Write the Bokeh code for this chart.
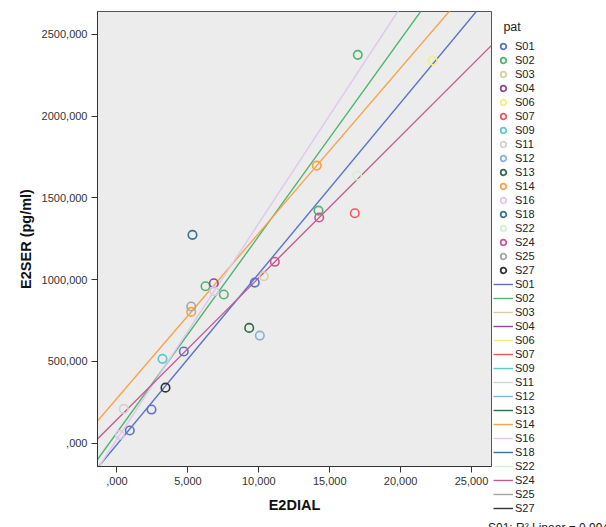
import numpy as np
from bokeh.plotting import figure
from bokeh.layouts import row, column
from bokeh.models import Range1d, FixedTicker, Legend, LegendItem, ColumnDataSource, Div
from bokeh.embed import file_html
from bokeh.resources import INLINE

# ---- data ----
patients = ["S01", "S02", "S03", "S04", "S06", "S07", "S09", "S11", "S12",
            "S13", "S14", "S16", "S18", "S22", "S24", "S25", "S27"]
pat_colors = ["#5a72c8", "#4db56e", "#d6d0a3", "#8a4a9a", "#f3ee80", "#f0555a",
              "#5cc8cc", "#d2d2d2", "#86b2dc", "#2f6b4a", "#f8a24a", "#e0c6ee",
              "#3a7090", "#d2f0d2", "#c45a92", "#a5a5a5", "#333333"]

point_pat = ["S01", "S01", "S01", "S01",
             "S02", "S02", "S02", "S02",
             "S03", "S04", "S06", "S07", "S09", "S11", "S12", "S13",
             "S14", "S14", "S16", "S16", "S18", "S22",
             "S24", "S24", "S25", "S27"]
point_e2dial = [903, 2433, 4711, 9718,
                6241, 7532, 14210, 16982,
                10353, 6827, 22271, 16770, 3209, 480, 10071, 9323,
                5233, 14090, 197, 6855, 5324, 16940,
                11130, 14260, 5233, 3420]
point_e2ser = [78, 206, 561, 982,
               960, 909, 1422, 2374,
               1021, 978, 2339, 1406, 516, 210, 658, 705,
               803, 1697, 51, 930, 1274, 1636,
               1109, 1380, 836, 340]

x_ticks = [0, 5000, 10000, 15000, 20000, 25000]
x_tick_labels = [",000", "5,000", "10,000", "15,000", "20,000", "25,000"]
y_ticks = [0, 500, 1000, 1500, 2000, 2500]
y_tick_labels = [",000", "500,000", "1000,000", "1500,000", "2000,000", "2500,000"]

x_lo, x_hi = -1375, 26410
y_lo, y_hi = -142, 2639

legend_title = "pat"
fit_note = "S01: R\u00b2 Linear = 0,994"

FONT = "Liberation Sans"
H = 516
W_MAIN = 492

# ---- main chart ----
p = figure(width=W_MAIN, height=H, output_backend="svg", toolbar_location=None,
           x_range=Range1d(x_lo, x_hi), y_range=Range1d(y_lo, y_hi),
           min_border_left=97, min_border_right=1, min_border_top=11,
           min_border_bottom=50)
p.background_fill_color = "#ebeceb"
p.border_fill_color = "white"
p.outline_line_color = "#555555"
p.outline_line_width = 1
p.grid.visible = False

for ax, ticks, labels in ((p.xaxis[0], x_ticks, x_tick_labels), (p.yaxis[0], y_ticks, y_tick_labels)):
    ax.ticker = FixedTicker(ticks=ticks)
    ax.major_label_overrides = {t: l for t, l in zip(ticks, labels)}
    ax.minor_tick_line_color = None
    ax.major_tick_in = 0
    ax.major_tick_out = 6
    ax.major_tick_line_color = "#333333"
    ax.axis_line_color = "#333333"
    ax.major_label_text_font = FONT
    ax.major_label_text_font_size = "11px"
    ax.major_label_text_color = "#333333"
    ax.axis_label_text_font = FONT
    ax.axis_label_text_font_style = "bold"
    ax.axis_label_text_font_size = "14.5px"
    ax.axis_label_text_color = "#111111"

p.xaxis.axis_label = "E2DIAL"
p.yaxis.axis_label = "E2SER (pg/ml)"
p.xaxis.major_label_standoff = 4
p.xaxis.axis_label_standoff = 9
p.yaxis.major_label_standoff = 4
p.yaxis.axis_label_standoff = 5

pp = np.array(point_pat)
xs_all = np.array(point_e2dial, dtype=float)
ys_all = np.array(point_e2ser, dtype=float)

for pat, col in zip(patients, pat_colors):
    m = pp == pat
    px, py = xs_all[m], ys_all[m]
    if len(px) >= 2:
        slope, icpt = np.polyfit(px, py, 1)
        p.line(x=[x_lo, x_hi], y=[icpt + slope * x_lo, icpt + slope * x_hi],
               line_color=col, line_width=1.4)

for pat, col in zip(patients, pat_colors):
    m = pp == pat
    src = ColumnDataSource(dict(x=xs_all[m], y=ys_all[m]))
    p.scatter("x", "y", source=src, marker="circle", size=8.5,
              fill_color=None, line_color=col, line_width=1.6)

# ---- legend canvas to the right of the chart ----
LW = 606 - W_MAIN
lp = figure(width=LW, height=H, output_backend="svg", toolbar_location=None,
            x_range=Range1d(0, 1), y_range=Range1d(0, 1),
            x_axis_type=None, y_axis_type=None,
            min_border_left=0, min_border_right=0, min_border_top=11,
            min_border_bottom=50)
lp.outline_line_color = None
lp.background_fill_color = "white"
lp.border_fill_color = "white"
lp.grid.visible = False

nan = np.array([np.nan])
point_items = []
line_items = []
for pat, col in zip(patients, pat_colors):
    sr = lp.scatter(x=nan, y=nan, marker="circle", size=8.5, fill_color=None,
                    line_color=col, line_width=1.8)
    point_items.append(LegendItem(label=pat, renderers=[sr]))
    lr = lp.line(x=nan, y=nan, line_color=col, line_width=1.4)
    line_items.append(LegendItem(label=pat, renderers=[lr]))

legend = Legend(items=point_items + line_items, location=(1, -49),
                orientation="vertical", background_fill_alpha=0,
                border_line_color=None, padding=0, margin=0,
                spacing=0, glyph_height=14, glyph_width=20,
                label_height=14, label_standoff=2,
                label_text_font=FONT, label_text_font_size="11px",
                label_text_color="#222222",
                title="\u00a0\u00a0\u00a0" + legend_title, title_standoff=5,
                title_text_font=FONT, title_text_font_size="12.5px",
                title_text_font_style="normal", title_text_color="#222222")
lp.add_layout(legend, "left")

note = Div(text=fit_note, width=606, height=527 - H, margin=0,
           styles={"padding-left": "488px", "font-family": FONT, "font-size": "12px",
                   "color": "#222222", "line-height": "14px", "overflow": "hidden",
                   "white-space": "nowrap", "box-sizing": "border-box",
                   "padding-top": "5px"})

layout = column(row(p, lp, spacing=0), note, spacing=0)
open("out.html", "w").write(file_html(layout, INLINE))
